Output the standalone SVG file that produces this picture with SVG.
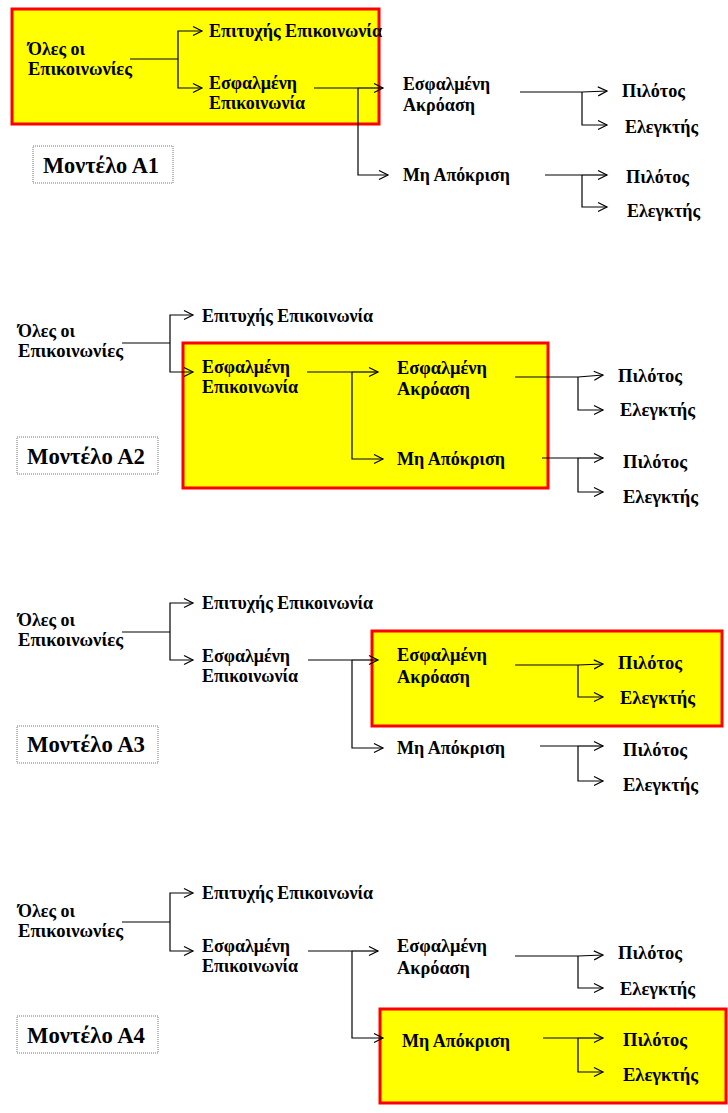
<svg xmlns="http://www.w3.org/2000/svg" width="728" height="1113" viewBox="0 0 728 1113">
<style>
.t{font-family:"Liberation Serif","Times New Roman",serif;font-weight:bold;font-size:18px;fill:#000}
.m{font-family:"Liberation Serif","Times New Roman",serif;font-weight:bold;font-size:23px;fill:#000}
.hl{fill:#FFFF00;stroke:#FF0000;stroke-width:3}
.mb{fill:#fff;stroke:#777;stroke-width:1;stroke-dasharray:1 1}
.c path{fill:none;stroke:#000;stroke-width:1.2}
.c path.a{marker-end:url(#ah)}
</style>
<defs>
<marker id="ah" markerUnits="userSpaceOnUse" markerWidth="12" markerHeight="12" refX="10" refY="6" orient="auto">
<path d="M1,1.5 L10,6 L1,10.5" fill="none" stroke="#000" stroke-width="1.2"/>
</marker>
</defs>
<rect width="728" height="1113" fill="#fff"/>

<!-- highlight boxes -->
<rect id="hl1" class="hl" x="12" y="9" width="367" height="115"/>
<rect id="hl2" class="hl" x="183" y="343" width="365" height="145"/>
<rect id="hl3" class="hl" x="372" y="631" width="350" height="95"/>
<rect id="hl4" class="hl" x="380" y="1009" width="346" height="94"/>

<!-- Panel A1 -->
<g id="p1-all"><text class="t" x="28" y="55" textLength="57" lengthAdjust="spacingAndGlyphs">Όλες οι</text><text class="t" x="28" y="75" textLength="104" lengthAdjust="spacingAndGlyphs">Επικοινωνίες</text></g>
<g id="p1-succ"><text class="t" x="209" y="37" textLength="173" lengthAdjust="spacingAndGlyphs">Επιτυχής Επικοινωνία</text></g>
<g id="p1-err"><text class="t" x="209" y="89" textLength="88" lengthAdjust="spacingAndGlyphs">Εσφαλμένη</text><text class="t" x="209" y="109" textLength="96" lengthAdjust="spacingAndGlyphs">Επικοινωνία</text></g>
<g id="p1-mis"><text class="t" x="403" y="90" textLength="87" lengthAdjust="spacingAndGlyphs">Εσφαλμένη</text><text class="t" x="403" y="111" textLength="72" lengthAdjust="spacingAndGlyphs">Ακρόαση</text></g>
<g id="p1-mis-pil"><text class="t" x="622" y="97" textLength="63" lengthAdjust="spacingAndGlyphs">Πιλότος</text></g>
<g id="p1-mis-ctl"><text class="t" x="625" y="133" textLength="73" lengthAdjust="spacingAndGlyphs">Ελεγκτής</text></g>
<g id="p1-nr"><text class="t" x="403" y="181" textLength="107" lengthAdjust="spacingAndGlyphs">Μη Απόκριση</text></g>
<g id="p1-nr-pil"><text class="t" x="626" y="183" textLength="63" lengthAdjust="spacingAndGlyphs">Πιλότος</text></g>
<g id="p1-nr-ctl"><text class="t" x="627" y="217" textLength="73" lengthAdjust="spacingAndGlyphs">Ελεγκτής</text></g>
<g id="p1-label"><rect class="mb" x="33" y="146" width="140" height="37"/><text class="m" x="43" y="173" textLength="116" lengthAdjust="spacingAndGlyphs">Μοντέλο Α1</text></g>

<!-- Panel A2 -->
<g id="p2-all"><text class="t" x="18" y="337" textLength="57" lengthAdjust="spacingAndGlyphs">Όλες οι</text><text class="t" x="18" y="357" textLength="105" lengthAdjust="spacingAndGlyphs">Επικοινωνίες</text></g>
<g id="p2-succ"><text class="t" x="202" y="322" textLength="171" lengthAdjust="spacingAndGlyphs">Επιτυχής Επικοινωνία</text></g>
<g id="p2-err"><text class="t" x="202" y="373" textLength="88" lengthAdjust="spacingAndGlyphs">Εσφαλμένη</text><text class="t" x="202" y="393" textLength="96" lengthAdjust="spacingAndGlyphs">Επικοινωνία</text></g>
<g id="p2-mis"><text class="t" x="397" y="374" textLength="90" lengthAdjust="spacingAndGlyphs">Εσφαλμένη</text><text class="t" x="397" y="395" textLength="73" lengthAdjust="spacingAndGlyphs">Ακρόαση</text></g>
<g id="p2-mis-pil"><text class="t" x="618" y="382" textLength="64" lengthAdjust="spacingAndGlyphs">Πιλότος</text></g>
<g id="p2-mis-ctl"><text class="t" x="620" y="416" textLength="75" lengthAdjust="spacingAndGlyphs">Ελεγκτής</text></g>
<g id="p2-nr"><text class="t" x="397" y="465" textLength="108" lengthAdjust="spacingAndGlyphs">Μη Απόκριση</text></g>
<g id="p2-nr-pil"><text class="t" x="623" y="468" textLength="64" lengthAdjust="spacingAndGlyphs">Πιλότος</text></g>
<g id="p2-nr-ctl"><text class="t" x="623" y="503" textLength="75" lengthAdjust="spacingAndGlyphs">Ελεγκτής</text></g>
<g id="p2-label"><rect class="mb" x="17" y="437" width="141" height="37"/><text class="m" x="27" y="464" textLength="118" lengthAdjust="spacingAndGlyphs">Μοντέλο Α2</text></g>

<!-- Panel A3 -->
<g id="p3-all"><text class="t" x="18" y="626" textLength="57" lengthAdjust="spacingAndGlyphs">Όλες οι</text><text class="t" x="18" y="646" textLength="105" lengthAdjust="spacingAndGlyphs">Επικοινωνίες</text></g>
<g id="p3-succ"><text class="t" x="202" y="609" textLength="171" lengthAdjust="spacingAndGlyphs">Επιτυχής Επικοινωνία</text></g>
<g id="p3-err"><text class="t" x="202" y="662" textLength="88" lengthAdjust="spacingAndGlyphs">Εσφαλμένη</text><text class="t" x="202" y="682" textLength="96" lengthAdjust="spacingAndGlyphs">Επικοινωνία</text></g>
<g id="p3-mis"><text class="t" x="397" y="661" textLength="90" lengthAdjust="spacingAndGlyphs">Εσφαλμένη</text><text class="t" x="397" y="683" textLength="73" lengthAdjust="spacingAndGlyphs">Ακρόαση</text></g>
<g id="p3-mis-pil"><text class="t" x="618" y="669" textLength="64" lengthAdjust="spacingAndGlyphs">Πιλότος</text></g>
<g id="p3-mis-ctl"><text class="t" x="620" y="704" textLength="75" lengthAdjust="spacingAndGlyphs">Ελεγκτής</text></g>
<g id="p3-nr"><text class="t" x="397" y="754" textLength="108" lengthAdjust="spacingAndGlyphs">Μη Απόκριση</text></g>
<g id="p3-nr-pil"><text class="t" x="623" y="756" textLength="64" lengthAdjust="spacingAndGlyphs">Πιλότος</text></g>
<g id="p3-nr-ctl"><text class="t" x="623" y="791" textLength="75" lengthAdjust="spacingAndGlyphs">Ελεγκτής</text></g>
<g id="p3-label"><rect class="mb" x="17" y="726" width="141" height="37"/><text class="m" x="27" y="752" textLength="118" lengthAdjust="spacingAndGlyphs">Μοντέλο Α3</text></g>

<!-- Panel A4 -->
<g id="p4-all"><text class="t" x="18" y="917" textLength="57" lengthAdjust="spacingAndGlyphs">Όλες οι</text><text class="t" x="18" y="937" textLength="105" lengthAdjust="spacingAndGlyphs">Επικοινωνίες</text></g>
<g id="p4-succ"><text class="t" x="202" y="899" textLength="171" lengthAdjust="spacingAndGlyphs">Επιτυχής Επικοινωνία</text></g>
<g id="p4-err"><text class="t" x="202" y="952" textLength="88" lengthAdjust="spacingAndGlyphs">Εσφαλμένη</text><text class="t" x="202" y="972" textLength="96" lengthAdjust="spacingAndGlyphs">Επικοινωνία</text></g>
<g id="p4-mis"><text class="t" x="397" y="952" textLength="90" lengthAdjust="spacingAndGlyphs">Εσφαλμένη</text><text class="t" x="397" y="974" textLength="73" lengthAdjust="spacingAndGlyphs">Ακρόαση</text></g>
<g id="p4-mis-pil"><text class="t" x="618" y="959" textLength="64" lengthAdjust="spacingAndGlyphs">Πιλότος</text></g>
<g id="p4-mis-ctl"><text class="t" x="620" y="995" textLength="75" lengthAdjust="spacingAndGlyphs">Ελεγκτής</text></g>
<g id="p4-nr"><text class="t" x="402" y="1047" textLength="108" lengthAdjust="spacingAndGlyphs">Μη Απόκριση</text></g>
<g id="p4-nr-pil"><text class="t" x="623" y="1046" textLength="64" lengthAdjust="spacingAndGlyphs">Πιλότος</text></g>
<g id="p4-nr-ctl"><text class="t" x="623" y="1081" textLength="75" lengthAdjust="spacingAndGlyphs">Ελεγκτής</text></g>
<g id="p4-label"><rect class="mb" x="17" y="1016" width="141" height="37"/><text class="m" x="27" y="1043" textLength="118" lengthAdjust="spacingAndGlyphs">Μοντέλο Α4</text></g>

<!-- connectors -->
<g id="connectors" class="c">
<path d="M130,59 H178"/><path class="a" d="M178,59 V31 H202"/><path class="a" d="M178,59 V88 H202"/>
<path d="M314,88 H358"/><path class="a" d="M358,88 H383"/><path class="a" d="M358,88 V175 H388"/>
<path d="M520,92 H582"/><path class="a" d="M582,92 L607,91"/><path class="a" d="M582,92 V125 H607"/>
<path d="M545,175 H582"/><path class="a" d="M582,175 H607"/><path class="a" d="M582,175 V207 H607"/>

<path d="M122,343 H170"/><path class="a" d="M170,343 V315 H193"/><path class="a" d="M170,343 V372 H193"/>
<path d="M307,372 H352"/><path class="a" d="M352,372 H378"/><path class="a" d="M352,372 V459 H383"/>
<path d="M515,377 H578"/><path class="a" d="M578,377 L603,375"/><path class="a" d="M578,377 V410 H603"/>
<path d="M542,458 H578"/><path class="a" d="M578,458 H603"/><path class="a" d="M578,458 V492 H603"/>

<path d="M122,632 H170"/><path class="a" d="M170,632 V603 H193"/><path class="a" d="M170,632 V660 H193"/>
<path d="M308,660 H352"/><path class="a" d="M352,660 H378"/><path class="a" d="M352,660 V748 H383"/>
<path d="M515,665 H578"/><path class="a" d="M578,665 L603,664"/><path class="a" d="M578,665 V697 H603"/>
<path d="M540,746 H578"/><path class="a" d="M578,746 H603"/><path class="a" d="M578,746 V781 H603"/>

<path d="M122,922 H170"/><path class="a" d="M170,922 V893 H193"/><path class="a" d="M170,922 V951 H193"/>
<path d="M308,951 H352"/><path class="a" d="M352,951 H378"/><path class="a" d="M352,951 V1038 H383"/>
<path d="M515,956 H578"/><path class="a" d="M578,956 L603,955"/><path class="a" d="M578,956 V988 H603"/>
<path d="M543,1038 H578"/><path class="a" d="M578,1038 H603"/><path class="a" d="M578,1038 V1072 H603"/>
</g>
</svg>
